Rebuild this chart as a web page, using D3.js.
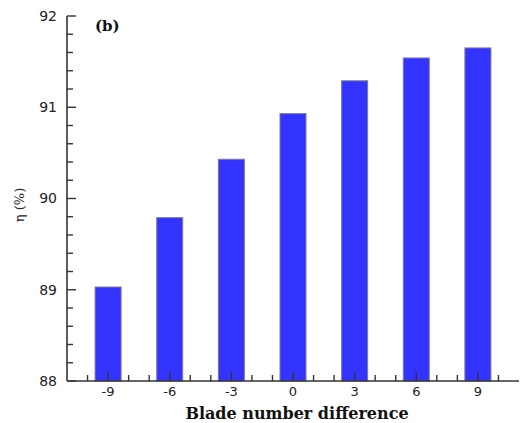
<!DOCTYPE html>
<html>
<head>
<meta charset="utf-8">
<script src="https://cdn.jsdelivr.net/npm/d3@7"></script>
<style>
  body { margin: 0; background: #fff; }
  svg { display: block; }
</style>
</head>
<body>
<svg id="chart" width="520" height="423"></svg>
<script>
const categories = [-9, -6, -3, 0, 3, 6, 9];
const efficiency = [89.03, 89.79, 90.43, 90.93, 91.29, 91.54, 91.65];
const yTickLabels = [88, 89, 90, 91, 92];

const svg = d3.select('#chart');
const margin = { left: 67, right: 1, top: 16, bottom: 42 };
const width = 520;
const height = 423;

const x = d3.scaleLinear().domain([-11, 11]).range([margin.left, width - margin.right]);
const y = d3.scaleLinear().domain([88, 92]).range([height - margin.bottom, margin.top]);
const barWidth = 26;

// bars
svg.append('g')
  .selectAll('rect')
  .data(categories)
  .join('rect')
  .attr('x', (d) => x(d) - barWidth / 2)
  .attr('y', (d, i) => y(efficiency[i]))
  .attr('width', barWidth)
  .attr('height', (d, i) => y(88) - y(efficiency[i]))
  .attr('fill', '#3333ff')
  .attr('stroke', '#7a7a9a')
  .attr('stroke-width', 1);

// y axis with inward ticks
const yAxis = svg.append('g').attr('transform', `translate(${margin.left},0)`);
yAxis.append('line')
  .attr('x1', 0).attr('x2', 0)
  .attr('y1', y(92)).attr('y2', y(88))
  .attr('stroke', '#333').attr('stroke-width', 1.6);
yAxis.selectAll('line.minor')
  .data(d3.range(88, 92.001, 0.2))
  .join('line')
  .attr('class', 'minor')
  .attr('x1', 0)
  .attr('x2', (d) => (Math.abs(d - Math.round(d)) < 1e-6 ? 9 : 6))
  .attr('y1', (d) => y(d)).attr('y2', (d) => y(d))
  .attr('stroke', '#333').attr('stroke-width', 1.4);
yAxis.selectAll('text')
  .data(yTickLabels)
  .join('text')
  .attr('x', -10)
  .attr('y', (d) => y(d))
  .attr('dy', '0.35em')
  .attr('text-anchor', 'end')
  .attr('font-family', 'DejaVu Sans, sans-serif')
  .attr('font-size', 14)
  .attr('fill', '#222')
  .text((d) => d);

// x axis with inward ticks
const xAxis = svg.append('g').attr('transform', `translate(0,${y(88)})`);
xAxis.append('line')
  .attr('x1', x(-11)).attr('x2', x(11))
  .attr('y1', 0).attr('y2', 0)
  .attr('stroke', '#333').attr('stroke-width', 1.6);
xAxis.selectAll('line.tick')
  .data(d3.range(-10, 11, 1))
  .join('line')
  .attr('class', 'tick')
  .attr('x1', (d) => x(d)).attr('x2', (d) => x(d))
  .attr('y1', 0)
  .attr('y2', (d) => (d % 3 === 0 ? -9 : -6))
  .attr('stroke', '#333').attr('stroke-width', 1.4);
xAxis.selectAll('text')
  .data(categories)
  .join('text')
  .attr('x', (d) => x(d))
  .attr('y', 15)
  .attr('text-anchor', 'middle')
  .attr('font-family', 'DejaVu Sans, sans-serif')
  .attr('font-size', 13)
  .attr('fill', '#222')
  .text((d) => d);

// titles
svg.append('text')
  .attr('x', 297)
  .attr('y', 419)
  .attr('text-anchor', 'middle')
  .attr('font-family', 'DejaVu Serif, serif')
  .attr('font-weight', 'bold')
  .attr('font-size', 16)
  .attr('fill', '#111')
  .text('Blade number difference');

svg.append('text')
  .attr('transform', 'translate(24,205) rotate(-90)')
  .attr('text-anchor', 'middle')
  .attr('font-family', 'DejaVu Serif, serif')
  .attr('font-size', 13)
  .attr('fill', '#222')
  .text('η (%)');

svg.append('text')
  .attr('x', 95)
  .attr('y', 31)
  .attr('font-family', 'DejaVu Serif, serif')
  .attr('font-weight', 'bold')
  .attr('font-size', 15)
  .attr('fill', '#111')
  .text('(b)');
</script>
</body>
</html>
